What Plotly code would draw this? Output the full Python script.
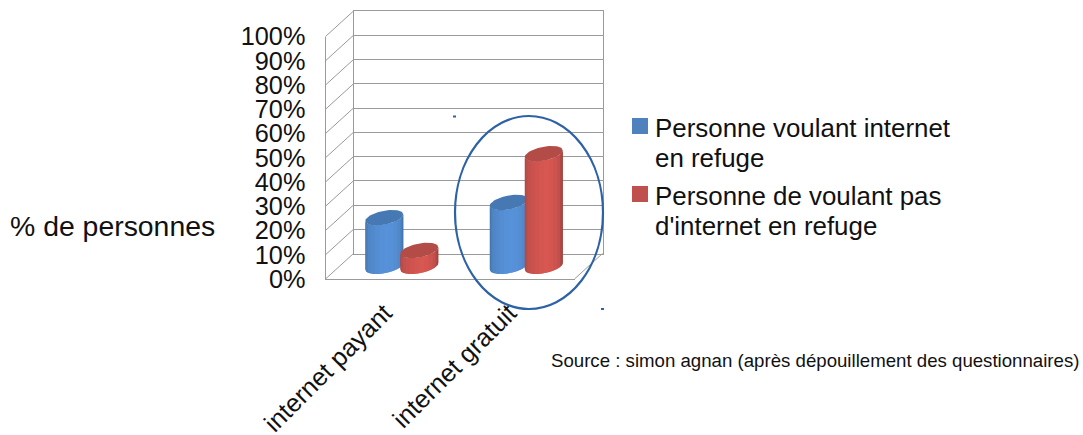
import numpy as np
import plotly.graph_objects as go

categories = ["internet payant", "internet gratuit"]
series_lines = [["Personne voulant internet", "en refuge"], ["Personne de voulant pas", "d'internet en refuge"]]
series_colors = ["#4f81bd", "#c0504d"]
vals_blue = [20, 26.3]
vals_red = [6.5, 46.4]
y_ticks = list(range(0, 101, 10))
y_tick_labels = [f"{v}%" for v in y_ticks]

W, H = 1083, 435
FONT = "Liberation Sans"
GRID = "#9a9a9a"
# front plane of the pseudo-3D box in pixels
L, R, B, T = 325.5, 574.5, 279.0, 36.5
DX, DY = 28.0, 25.5   # depth shift front -> back
UNIT_X = (R - L) / 2
UNIT_Y = (B - T) / 100


def px(x):
    return x / W


def py(y):
    return 1 - y / H


fig = go.Figure()

# ---- mid-depth plane used by the cylinders
MID_LOW = -10
mid_left = L + DX / 2
mid_right = R + DX / 2
mid_bottom = B - DY / 2
mid_axis_bottom = mid_bottom - MID_LOW * UNIT_Y
mid_top = mid_bottom - 100 * UNIT_Y

colors_blue = ["#3f6ea6", "#4a7dba", "#4f86c6", "#5289cc", "#548dd2", "#5690d7", "#5791d9", "#5690d7",
               "#548dd2", "#5088ca", "#4a7eb9", "#3f6c9f"]
colors_red = ["#a84643", "#b94c48", "#c2504c", "#c9524e", "#cf544f", "#d45650", "#d85851", "#d45650",
              "#cd534e", "#c1504c", "#ad4744", "#973e3b"]
cap_blue = "#4679b3"
cap_red = "#b34b47"

R_X = 19.0 / UNIT_X          # cylinder radius, data units
SHEAR = 1.35                 # percent
MINOR = 2.9                  # percent
OFFSET = 17.5 / UNIT_X


def front_edge(xc, v, x):
    """Lower edge of the tilted ellipse at data position x."""
    c = np.clip((x - xc) / R_X, -1, 1)
    return v + SHEAR * c - MINOR * np.sqrt(1 - c ** 2)


def draw_cylinder(xc, v, strips, cap):
    n = len(strips)
    edges = xc + R_X * (np.sin(np.linspace(-np.pi / 2, np.pi / 2, n + 1)))
    for i, col in enumerate(strips):
        x0 = edges[i]
        x1 = edges[min(i + 2, n)]  # overlap to hide seams
        xs = np.linspace(x0, x1, 8)
        xp = list(xs) + list(xs[::-1]) + [xs[0]]
        yp = list(front_edge(xc, 0, xs)) + list(front_edge(xc, v, xs[::-1])) + [front_edge(xc, 0, xs[:1])[0]]
        fig.add_trace(go.Scatter(x=xp, y=yp, xaxis="x3", yaxis="y3", mode="lines", fill="toself",
                                 fillcolor=col, line=dict(width=0, color=col),
                                 showlegend=False, hoverinfo="skip"))
    t = np.linspace(0, 2 * np.pi, 60)
    fig.add_trace(go.Scatter(x=xc + R_X * np.cos(t), y=v + SHEAR * np.cos(t) + MINOR * np.sin(t),
                             xaxis="x3", yaxis="y3", mode="lines", fill="toself", fillcolor=cap,
                             line=dict(width=0, color=cap), showlegend=False, hoverinfo="skip"))


for i in range(len(categories)):
    draw_cylinder(i - OFFSET, vals_blue[i], colors_blue, cap_blue)
    draw_cylinder(i + OFFSET, vals_red[i], colors_red, cap_red)

# invisible trace so the front axes exist
fig.add_trace(go.Scatter(x=[0, 1], y=[0, 0], mode="markers", marker=dict(opacity=0),
                         showlegend=False, hoverinfo="skip"))

shapes = []
# oblique depth lines
for v in y_ticks:
    y0 = B - v * UNIT_Y
    shapes.append(dict(type="line", xref="paper", yref="paper", x0=px(L), y0=py(y0), x1=px(L + DX), y1=py(y0 - DY),
                       line=dict(color=GRID, width=1)))
shapes.append(dict(type="line", xref="paper", yref="paper", x0=px(R), y0=py(B), x1=px(R + DX), y1=py(B - DY),
                   line=dict(color=GRID, width=1)))
# highlight ellipse
shapes.append(dict(type="circle", xref="paper", yref="paper", x0=px(455), x1=px(603), y0=py(309), y1=py(116),
                   line=dict(color="#2e62a6", width=2.2), layer="above"))
# small handles
for cx, cy in [(454.5, 116.5), (602.5, 309)]:
    shapes.append(dict(type="rect", xref="paper", yref="paper", x0=px(cx - 1.5), x1=px(cx + 1.5),
                       y0=py(cy + 1), y1=py(cy - 1), line=dict(width=0), fillcolor="#2e62a6"))

annotations = [
    dict(text="% de personnes", xref="paper", yref="paper", x=px(217), y=py(226), xanchor="right", yanchor="middle",
         showarrow=False, font=dict(size=28.4, family=FONT)),
    dict(text="Source : simon agnan (après dépouillement des questionnaires)", xref="paper", yref="paper",
         x=px(1080.5), y=py(360), xanchor="right", yanchor="middle", showarrow=False,
         font=dict(size=18.65, family=FONT)),
]
# legend: swatch + one text per line
LEG_TOP = [118, 186]
for k, (lines, col) in enumerate(zip(series_lines, series_colors)):
    shapes.append(dict(type="rect", xref="paper", yref="paper", x0=px(632), x1=px(648), y0=py(LEG_TOP[k] + 16),
                       y1=py(LEG_TOP[k]), line=dict(width=0), fillcolor=col))
    for j, line in enumerate(lines):
        annotations.append(dict(text=line, xref="paper", yref="paper", x=px(652.5), y=py(LEG_TOP[k] + 10 + 30 * j),
                                xanchor="left", yanchor="middle", showarrow=False,
                                font=dict(size=25.9, family=FONT)))

fig.update_layout(
    width=W, height=H, margin=dict(l=0, r=0, t=0, b=0, autoexpand=False), autosize=False,
    paper_bgcolor="white", plot_bgcolor="rgba(0,0,0,0)",
    font=dict(family=FONT, color="#111111"),
    showlegend=False,
    xaxis=dict(domain=[px(L), px(R)], range=[-0.475, 1.525], tickmode="array", tickvals=list(range(len(categories))),
               ticktext=categories, tickangle=-45, tickfont=dict(size=25.4, family=FONT), showgrid=False,
               zeroline=False, showline=True, linecolor=GRID, linewidth=1, ticks="outside", ticklen=8,
               tickcolor="rgba(0,0,0,0)", anchor="y"),
    yaxis=dict(domain=[py(B), py(T)], range=[0, 100], tickmode="array", tickvals=y_ticks, ticktext=y_tick_labels,
               tickfont=dict(size=25.3, family=FONT), showgrid=False, zeroline=False, showline=True, linecolor=GRID,
               linewidth=1, ticks="outside", ticklen=14, tickcolor="rgba(0,0,0,0)", anchor="x"),
    xaxis2=dict(domain=[px(L + DX), px(R + DX)], range=[-0.5, 1.5], showticklabels=False, showgrid=False,
                zeroline=False, showline=True, linecolor=GRID, linewidth=1, mirror=True, anchor="y2"),
    yaxis2=dict(domain=[py(B - DY), py(T - DY)], range=[0, 100], tickmode="array", tickvals=y_ticks,
                showticklabels=False, showgrid=True, gridcolor=GRID, gridwidth=1, zeroline=False,
                showline=True, linecolor=GRID, linewidth=1, mirror=True, anchor="x2"),
    xaxis3=dict(domain=[px(mid_left), px(mid_right)], range=[-0.5, 1.5], visible=False, anchor="y3"),
    yaxis3=dict(domain=[py(mid_axis_bottom), py(mid_top)], range=[MID_LOW, 100], visible=False, anchor="x3"),
    shapes=shapes,
    annotations=annotations,
)
# an invisible trace on x2/y2 so the back wall is drawn
fig.add_trace(go.Scatter(x=[0], y=[0], xaxis="x2", yaxis="y2", mode="markers", marker=dict(opacity=0),
                         showlegend=False, hoverinfo="skip"))

fig.write_html("out.html", config={"displayModeBar": False},
               post_script="document.body.style.margin='0';")
